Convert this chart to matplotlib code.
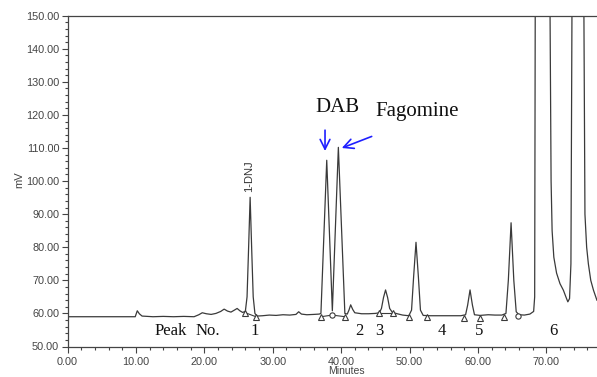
import matplotlib
matplotlib.use("Agg")
import matplotlib.pyplot as plt
from matplotlib.ticker import MultipleLocator, FormatStrFormatter

# ---- data ----
trace_t = [0.0, 9.9, 10.2, 10.5, 10.9, 12.5, 14.0, 15.5, 17.0, 18.5, 19.2, 19.7, 20.3, 21.0,
           21.7, 22.4, 22.9, 23.4, 23.9, 24.4, 24.8, 25.2, 25.6, 26.0, 26.25, 26.45, 26.7,
           26.95, 27.15, 27.4, 27.7, 28.5, 29.5, 30.5, 31.5, 32.5, 33.4, 33.8, 34.2, 35.0,
           36.0, 36.8, 37.05, 37.9, 38.72, 39.6, 40.55, 40.9, 41.15, 41.4, 41.7, 42.0, 43.0,
           44.0, 45.0, 45.6, 45.9, 46.2, 46.5, 46.8, 47.1, 47.5, 48.2, 49.0, 49.9, 50.3,
           50.6, 50.95, 51.3, 51.6, 52.0, 53.0, 54.5, 56.0, 57.5, 58.2, 58.5, 58.85, 59.2,
           59.5, 60.3, 61.5, 62.5, 63.5, 64.1, 64.45, 64.85, 65.25, 65.6, 66.0, 66.8, 67.6,
           68.15, 68.3, 68.38, 69.45, 70.55, 70.7, 70.85, 71.1, 71.5, 72.0, 72.5, 72.9,
           73.15, 73.4, 73.6, 73.75, 74.6, 75.5, 75.65, 75.9, 76.15, 76.5, 76.9, 77.4]
trace_mv = [59.0, 59.0, 60.8, 59.9, 59.2, 59.0, 59.1, 59.0, 59.1, 59.0, 59.6, 60.2, 59.9, 59.7,
            60.0, 60.6, 61.3, 60.7, 60.4, 61.0, 61.5, 60.8, 60.3, 60.6, 65.0, 78.0, 95.1,
            78.0, 65.0, 60.0, 59.2, 59.3, 59.5, 59.4, 59.6, 59.5, 59.7, 60.5, 59.8, 59.6,
            59.7, 59.8, 60.0, 106.3, 60.8, 110.2, 60.0, 59.8, 61.0, 62.6, 61.2, 60.2, 59.9,
            59.9, 60.0, 60.2, 61.5, 64.8, 67.1, 64.8, 61.5, 60.3, 59.9, 59.5, 59.3, 61.0,
            71.0, 81.5, 71.0, 61.0, 59.4, 59.3, 59.3, 59.3, 59.3, 59.6, 62.5, 67.1, 62.5,
            59.6, 59.4, 59.6, 59.5, 59.5, 60.0, 70.0, 87.4, 70.0, 60.5, 59.6, 59.5, 59.8,
            60.6, 65.0, 150.0, 400.0, 150.0, 100.0, 85.0, 77.0, 72.2, 69.0, 67.0, 64.8,
            63.5, 64.5, 75.0, 150.0, 400.0, 150.0, 90.0, 80.0, 75.0, 70.0, 67.0, 64.0]

tri_t = [26.0, 27.55, 37.05, 40.6, 45.5, 47.6, 49.9, 52.6, 57.9, 60.3, 63.8]
tri_mv = [60.2, 59.0, 59.0, 59.0, 60.0, 60.0, 58.8, 58.8, 58.6, 58.6, 58.8]
circ_t = [38.7, 65.9]
circ_mv = [59.5, 59.2]
base_groups = [[26.0, 27.55], [37.05, 38.7, 40.6], [45.5, 47.6]]
base_groups_mv = [[60.2, 59.0], [59.0, 59.5, 59.0], [60.0, 60.0]]

peak_nums = ["1", "2", "3", "4", "5", "6"]
peak_num_t = [27.3, 42.7, 45.6, 54.7, 60.2, 71.1]

# ---- figure ----
W, H = 597, 377
fig = plt.figure(figsize=(W / 100, H / 100), dpi=100)
x0, x1, ytop, ybot = 67.5, 597.0, 15.7, 346.5
ax = fig.add_axes([x0 / W, (H - ybot) / H, (x1 - x0) / W, (ybot - ytop) / H])
ax.set_xlim(0, (x1 - x0) / 6.84)
ax.set_ylim(50, 150)

line_col = "#3a3a3a"
ax.plot(trace_t, trace_mv, color=line_col, lw=0.9)

for gt, gm in zip(base_groups, base_groups_mv):
    ax.plot(gt, gm, color=line_col, lw=0.8)
ax.plot(tri_t, tri_mv, linestyle="none", marker="^", ms=4.8, mfc="white",
        mec=line_col, mew=0.8)
ax.plot(circ_t, circ_mv, linestyle="none", marker="o", ms=3.8, mfc="white",
        mec=line_col, mew=0.8)

# axes styling
ax.spines["right"].set_visible(False)
for s in ["left", "bottom", "top"]:
    ax.spines[s].set_color("#444444")
    ax.spines[s].set_linewidth(0.9)

ax.xaxis.set_major_locator(MultipleLocator(10))
ax.xaxis.set_minor_locator(MultipleLocator(2))
ax.yaxis.set_major_locator(MultipleLocator(10))
ax.yaxis.set_minor_locator(MultipleLocator(2))
ax.xaxis.set_major_formatter(FormatStrFormatter("%.2f"))
ax.yaxis.set_major_formatter(FormatStrFormatter("%.2f"))
ax.tick_params(axis="both", which="major", direction="out", length=4.5, width=0.8,
               color="#444444", labelsize=7.8, labelcolor="#444444")
ax.tick_params(axis="both", which="minor", direction="out", length=2.5, width=0.8,
               color="#444444")
ax.tick_params(axis="x", which="major", pad=3)
ax.tick_params(axis="y", which="major", pad=1.5)
for lab in ax.get_xticklabels() + ax.get_yticklabels():
    lab.set_family("Liberation Sans")

sans = "Liberation Sans"
serif = "Liberation Serif"
fig.text(19.5 / W, 1 - 180 / H, "mV", rotation=90, ha="center", va="center",
         family=sans, fontsize=8, color="#444444")
fig.text(346 / W, 1 - 366 / H, "Minutes", ha="center", va="top",
         family=sans, fontsize=7.5, color="#444444")

# annotations
ax.text(26.55, 101.6, "1-DNJ", rotation=90, ha="center", va="center",
        family=sans, fontsize=8, color="#333333")
ax.text(15.06, 54.8, "Peak", ha="center", va="center", family=serif, fontsize=12, color="#111111")
ax.text(20.47, 54.8, "No.", ha="center", va="center", family=serif, fontsize=12, color="#111111")
for lab, t in zip(peak_nums, peak_num_t):
    ax.text(t, 54.8, lab, ha="center", va="center", family=serif, fontsize=12, color="#111111")

ax.text(39.47, 122.3, "DAB", ha="center", va="center", family=serif, fontsize=15, color="#111111")
ax.text(51.1, 121.0, "Fagomine", ha="center", va="center", family=serif, fontsize=15, color="#111111")

arrow_kw = dict(arrowstyle="->,head_length=0.7,head_width=0.35", color="#1f1fff", lw=1.2,
                shrinkA=0, shrinkB=0)
ax.annotate("", xy=(37.65, 109.1), xytext=(37.65, 115.4), arrowprops=arrow_kw)
ax.annotate("", xy=(40.1, 110.0), xytext=(44.47, 113.5), arrowprops=arrow_kw)

fig.savefig("out.png", dpi=100)
